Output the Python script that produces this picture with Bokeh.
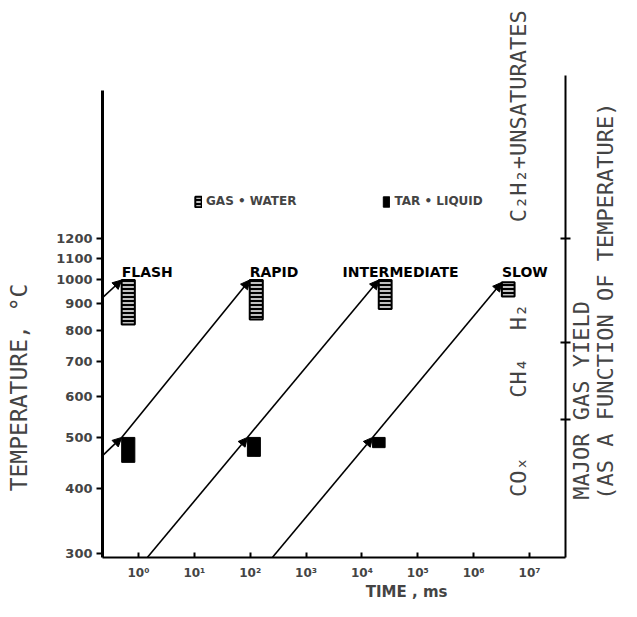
import math
from bokeh.plotting import figure
from bokeh.models import (ColumnDataSource, LogAxis, FixedTicker, Arrow, NormalHead,
                          Label, Legend, LegendItem, Range1d, LogScale)
from bokeh.core.properties import value
from bokeh.embed import file_html
from bokeh.resources import INLINE

# ---------------- data (time in ms, temperature in deg C) ----------------
regimes = ["FLASH", "RAPID", "INTERMEDIATE", "SLOW"]
regime_label_time = [0.50, 98.0, 4.5e3, 3.2e6]

gas_left = [0.50, 98.0, 2.0e4, 3.2e6]
gas_right = [0.86, 168.0, 3.4e4, 5.4e6]
gas_low = [822, 840, 880, 930]
gas_high = [1000, 1000, 1000, 990]

tar_left = [0.50, 89.0, 1.55e4]
tar_right = [0.86, 152.0, 2.6e4]
tar_low = [448, 460, 478]
tar_high = [500, 500, 500]

arrow_t0 = [0.23, 0.23, 0.50, 1.45, 89.0, 251.0, 1.55e4]
arrow_T0 = [926, 462, 500, 295, 500, 295, 500]
arrow_t1 = [0.50, 0.50, 98.0, 89.0, 2.0e4, 1.55e4, 3.2e6]
arrow_T1 = [1000, 500, 1000, 500, 1000, 500, 990]

temp_ticks = [300, 400, 500, 600, 700, 800, 900, 1000, 1100, 1200]
time_ticks = [1, 10, 100, 1000, 10**4, 10**5, 10**6, 10**7]
time_tick_labels = ["10⁰", "10¹", "10²", "10³", "10⁴", "10⁵", "10⁶", "10⁷"]

gas_names = ["COₓ", "CH₄", "H₂", "C₂H₂+UNSATURATES"]
gas_bounds = [540, 760, 1200]
gas_label_T = [420, 650, 850, 1290]

legend_labels = ["GAS • WATER", "TAR • LIQUID"]

# ---------------- scales / frame (frame = whole canvas) ----------------
T_AXIS = 294.8          # temperature at the time axis
T_TOP_L = 2303          # top of the temperature axis line
T_TOP_R = 2461          # top of the gas-yield axis line
t_LEFT = 10 ** -0.6445  # time at the temperature axis
t_RIGHT = 10 ** 7.644   # time at the gas-yield axis

p = figure(width=621, height=601,
           x_range=Range1d(10 ** -2.4705, 10 ** 8.6466), y_range=Range1d(242.8, 3423),
           x_axis_type=None, y_axis_type=None,
           output_backend="svg", toolbar_location=None,
           min_border_left=0, min_border_right=0, min_border_top=0, min_border_bottom=0)
p.x_scale = LogScale()
p.y_scale = LogScale()
p.outline_line_color = None
p.background_fill_color = "white"
p.border_fill_color = "white"

SANS = "DejaVu Sans"
MONO = "DejaVu Sans Mono"

# temperature axis
yax = LogAxis(ticker=FixedTicker(ticks=temp_ticks), fixed_location=t_LEFT,
              bounds=(T_AXIS, T_TOP_L))
yax.major_label_overrides = {t: str(t) for t in temp_ticks}
yax.axis_line_width = 3
yax.major_tick_line_width = 2
yax.major_tick_in = 0
yax.major_tick_out = 6
yax.minor_tick_line_color = None
yax.major_label_text_font = SANS
yax.major_label_text_font_style = "bold"
yax.major_label_text_font_size = "13px"
yax.major_label_standoff = 4
p.add_layout(yax, "left")

# time axis
xax = LogAxis(ticker=FixedTicker(ticks=time_ticks), fixed_location=T_AXIS,
              bounds=(t_LEFT, t_RIGHT))
xax.major_label_overrides = dict(zip(time_ticks, time_tick_labels))
xax.axis_line_width = 2
xax.major_tick_line_width = 2
xax.major_tick_in = 5
xax.major_tick_out = 0
xax.minor_tick_line_color = None
xax.major_label_text_font = SANS
xax.major_label_text_font_style = "bold"
xax.major_label_text_font_size = "12px"
xax.major_label_standoff = 9
p.add_layout(xax, "below")

# gas-yield axis
rax = LogAxis(ticker=FixedTicker(ticks=gas_bounds), fixed_location=t_RIGHT,
              bounds=(T_AXIS, T_TOP_R))
rax.axis_line_width = 2
rax.major_tick_line_width = 2
rax.major_tick_in = 5
rax.major_tick_out = 5
rax.minor_tick_line_color = None
rax.major_label_text_alpha = 0
rax.major_label_text_font_size = "1px"
p.add_layout(rax, "right")

p.xgrid.visible = False
p.ygrid.visible = False

# gas + water rectangles
gas_src = ColumnDataSource(dict(l=gas_left, r=gas_right, b=gas_low, t=gas_high))
gas_r = p.quad(left="l", right="r", bottom="b", top="t", source=gas_src,
               fill_color="black", line_color="black", line_width=2,
               hatch_pattern="horizontal_line", hatch_color="white",
               hatch_weight=1.5, hatch_scale=4)
tar_src = ColumnDataSource(dict(l=tar_left, r=tar_right, b=tar_low, t=tar_high))
tar_r = p.quad(left="l", right="r", bottom="b", top="t", source=tar_src,
               fill_color="black", line_color="black", line_width=1)

# arrows
arr_src = ColumnDataSource(dict(x0=arrow_t0, y0=arrow_T0, x1=arrow_t1, y1=arrow_T1))
p.add_layout(Arrow(source=arr_src, x_start="x0", y_start="y0", x_end="x1", y_end="y1",
                   line_width=1.6, line_color="black",
                   end=NormalHead(size=9, fill_color="black", line_color="black", line_width=1)))

# regime labels
reg_src = ColumnDataSource(dict(x=regime_label_time, y=[max(gas_high)] * 4, text=regimes))
p.text(x="x", y="y", text="text", source=reg_src, y_offset=-8,
       text_font=value(SANS), text_font_style="bold", text_font_size="14px",
       text_align="left", text_baseline="alphabetic", text_color="black")

# gas yield labels (rotated, left of the gas-yield axis)
lab_align = ["center", "center", "center", "left"]
for name, yy, al in zip(gas_names, gas_label_T, lab_align):
    p.add_layout(Label(x=10 ** 6.8, y=yy, text=name, angle=math.pi / 2, text_align=al,
                       text_baseline="middle", text_font=MONO, text_font_size="22px"))

# axis titles
p.add_layout(Label(x=10 ** -2.148, y=623, text="TEMPERATURE, °C", angle=math.pi / 2,
                   text_align="center", text_baseline="middle", text_font=MONO,
                   text_font_size="23px"))
p.add_layout(Label(x=10 ** 7.93, y=380, text="MAJOR GAS YIELD", angle=math.pi / 2,
                   text_align="left", text_baseline="middle", text_font=MONO,
                   text_font_size="22px"))
p.add_layout(Label(x=10 ** 8.36, y=380, text="(AS A FUNCTION OF TEMPERATURE)", angle=math.pi / 2,
                   text_align="left", text_baseline="middle", text_font=MONO,
                   text_font_size="22px"))
p.add_layout(Label(x=10 ** 4.8, y=T_AXIS, y_offset=-35, text="TIME , ms", text_align="center",
                   text_baseline="middle", text_font=SANS, text_font_style="bold",
                   text_font_size="15px"))

# legend
legend = Legend(items=[LegendItem(label=legend_labels[0], renderers=[gas_r]),
                       LegendItem(label=legend_labels[1], renderers=[tar_r])],
                orientation="horizontal", location=(194, 393),
                glyph_width=8, glyph_height=13, label_standoff=4, spacing=86,
                padding=0, margin=0, border_line_color=None, background_fill_alpha=0,
                label_text_font=SANS, label_text_font_style="bold",
                label_text_font_size="12px", label_height=13)
p.add_layout(legend)

open("out.html", "w").write(file_html(p, INLINE))
